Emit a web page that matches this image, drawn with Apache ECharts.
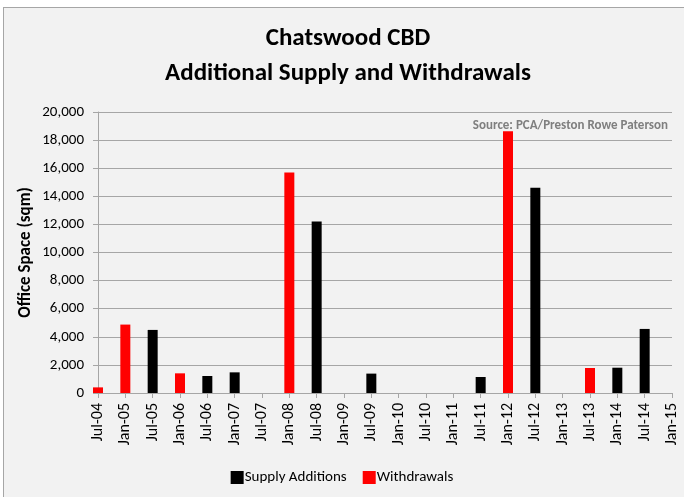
<!DOCTYPE html>
<html>
<head>
<meta charset="utf-8">
<script src="https://cdn.jsdelivr.net/npm/echarts@6/dist/echarts.min.js"></script>
<style>
html,body{margin:0;padding:0;background:#ffffff;}
#frame{position:absolute;left:3px;top:7px;width:681px;height:490px;background:#f2f2f2;border-left:1px solid #a6a6a6;border-top:1px solid #a6a6a6;}
#c{position:absolute;left:0;top:0;width:684px;height:497px;}
</style>
</head>
<body>
<div id="frame"></div>
<div id="c"></div>
<script>
const categories = ["Jul-04","Jan-05","Jul-05","Jan-06","Jul-06","Jan-07","Jul-07","Jan-08","Jul-08","Jan-09","Jul-09","Jan-10","Jul-10","Jan-11","Jul-11","Jan-12","Jul-12","Jan-13","Jul-13","Jan-14","Jul-14","Jan-15"];
const supplyAdditions = [null,null,4490,null,1210,1470,null,null,12210,null,1380,null,null,null,1140,null,14610,null,null,1800,4560,null];
const withdrawals = [400,4870,null,1400,null,null,null,15700,null,null,null,null,null,null,null,18625,null,null,1780,null,null,null];
const yTicks = [0,2000,4000,6000,8000,10000,12000,14000,16000,18000,20000];

const FONT = 'Carlito, "Liberation Sans Narrow", "Open Sans", sans-serif';
const chart = echarts.init(document.getElementById('c'), null, {renderer:'canvas'});
chart.setOption({
  backgroundColor: 'transparent',
  animation: false,
  title: [{
    text: 'Chatswood CBD\nAdditional Supply and Withdrawals',
    left: 343, top: 16, textAlign: 'center',
    textStyle: {fontFamily: FONT, fontWeight: 'bold', fontSize: 25, lineHeight: 35, color: '#000'}
  },{
    text: 'Source: PCA/Preston Rowe Paterson',
    right: 11, top: 114,
    textStyle: {fontFamily: FONT, fontWeight: 'bold', fontSize: 13, color: '#7f7f7f'}
  }],
  legend: {
    bottom: 7, left: 'center',
    itemWidth: 13, itemHeight: 13, itemGap: 16,
    icon: 'rect',
    textStyle: {fontFamily: FONT, fontSize: 15, color: '#000', padding: [0,0,0,-4]},
    data: ['Supply Additions','Withdrawals']
  },
  grid: {left: 98, right: 12, top: 112, bottom: 104, containLabel: false},
  xAxis: {
    type: 'category', data: categories, boundaryGap: false,
    axisLine: {show: true, lineStyle: {color: '#a6a6a6', width: 1}},
    axisTick: {show: true, length: 5, lineStyle: {color: '#a6a6a6'}},
    axisLabel: {rotate: 90, fontFamily: FONT, fontSize: 16, color: '#000', margin: 10, interval: 0},
    splitLine: {show: false}
  },
  yAxis: {
    type: 'value', min: yTicks[0], max: yTicks[yTicks.length-1], interval: 2000,
    name: 'Office Space (sqm)', nameLocation: 'middle', nameGap: 64, nameRotate: 90,
    nameMoveOverlap: false,
    nameTextStyle: {fontFamily: FONT, fontWeight: 'bold', fontSize: 17, color: '#000'},
    axisLine: {show: true, lineStyle: {color: '#a6a6a6'}},
    axisTick: {show: true, length: 5, inside: false, lineStyle: {color: '#a6a6a6'}},
    axisLabel: {fontFamily: FONT, fontSize: 15, color: '#000', margin: 14,
      formatter: v => v.toLocaleString('en-US')},
    splitLine: {show: true, lineStyle: {color: '#a6a6a6', width: 1}}
  },
  series: [{
    name: 'Supply Additions', type: 'bar', data: supplyAdditions,
    barWidth: 10, barGap: '-100%', clip: true,
    itemStyle: {color: '#000000'}
  },{
    name: 'Withdrawals', type: 'bar', data: withdrawals,
    barWidth: 10, barGap: '-100%', clip: true,
    itemStyle: {color: '#ff0000'}
  }]
});
</script>
</body>
</html>
